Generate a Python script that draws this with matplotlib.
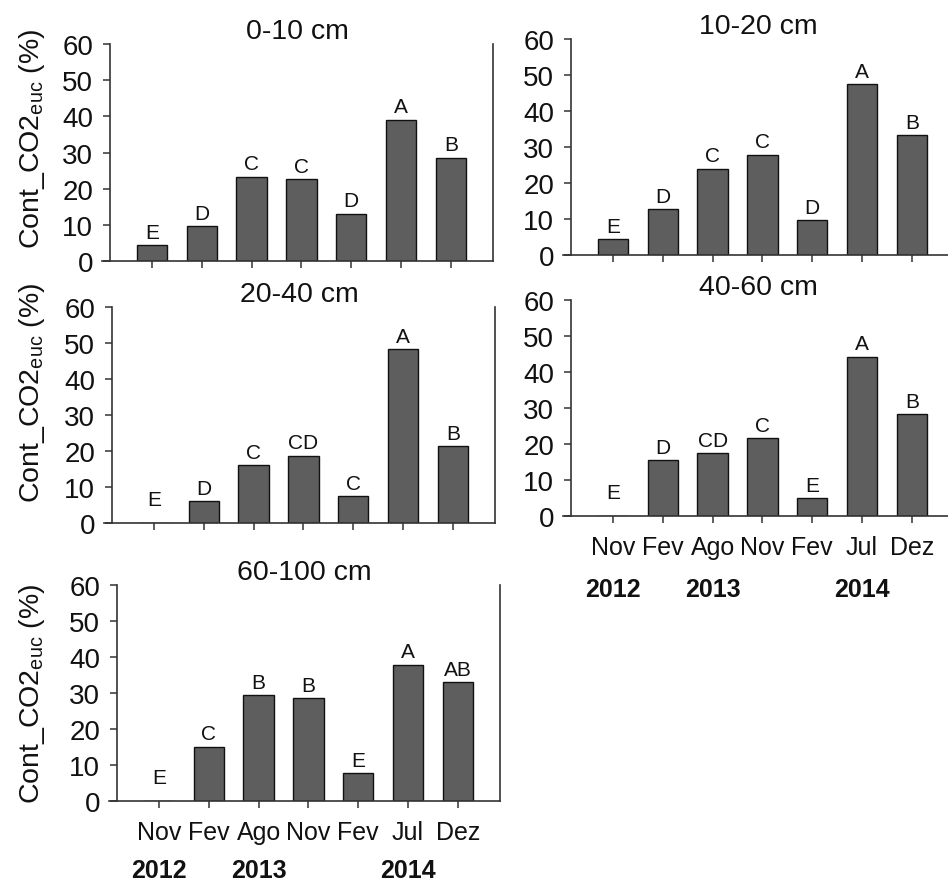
import matplotlib
matplotlib.use("Agg")
import matplotlib.pyplot as plt

plt.rcParams['font.family'] = ['Liberation Sans', 'DejaVu Sans']
plt.rcParams['mathtext.fontset'] = 'custom'
plt.rcParams['mathtext.rm'] = 'Liberation Sans'
plt.rcParams['mathtext.it'] = 'Liberation Sans:italic'

# ---------------- data ----------------
months = ['Nov', 'Fev', 'Ago', 'Nov', 'Fev', 'Jul', 'Dez']
years = ['2012', '2013', '2014']
year_month_index = [0, 2, 5]

titles = ['0-10 cm', '10-20 cm', '20-40 cm', '40-60 cm', '60-100 cm']

vals_0_10 = [4.3, 9.7, 23.3, 22.7, 13.1, 39.1, 28.6]
vals_10_20 = [4.4, 12.8, 24.0, 27.9, 9.7, 47.5, 33.4]
vals_20_40 = [0.0, 6.1, 16.1, 18.7, 7.4, 48.4, 21.4]
vals_40_60 = [0.0, 15.5, 17.5, 21.7, 4.9, 44.3, 28.3]
vals_60_100 = [0.0, 15.1, 29.5, 28.6, 7.8, 37.9, 33.1]

lett_0_10 = ['E', 'D', 'C', 'C', 'D', 'A', 'B']
lett_10_20 = ['E', 'D', 'C', 'C', 'D', 'A', 'B']
lett_20_40 = ['E', 'D', 'C', 'CD', 'C', 'A', 'B']
lett_40_60 = ['E', 'D', 'CD', 'C', 'E', 'A', 'B']
lett_60_100 = ['E', 'C', 'B', 'B', 'E', 'A', 'AB']

yticks = [0, 10, 20, 30, 40, 50, 60]
ylabel_main = 'Cont_CO2'
ylabel_sub = 'euc'
ylabel_tail = ' (%)'

# ---------------- layout ----------------
W, H = 948, 887
fig = plt.figure(figsize=(W / 100, H / 100), dpi=100)

UNIT = 49.8          # pixels per category
XL, XR = -1.0, 6.85  # x limits in category units
SPINE_X = -0.845

# (first bar centre px, y of 60 px, y of 0 px, show months, year offset px)
panels = [
    (152, 45, 262, False, 0),
    (613, 40, 256, False, 0),
    (154, 308, 524, False, 0),
    (613, 301, 517, True, -73),
    (159, 586, 802, True, -69),
]
all_vals = [vals_0_10, vals_10_20, vals_20_40, vals_40_60, vals_60_100]
all_lett = [lett_0_10, lett_10_20, lett_20_40, lett_40_60, lett_60_100]
ylabel_pos = [(32, 139), None, (32, 393), None, (32, 694)]

axc = '#333333'
txt = '#111111'
for k, (x0, ytop, ybot, show_months, yoff) in enumerate(panels):
    left = x0 + XL * UNIT
    right = x0 + XR * UNIT
    ax = fig.add_axes([left / W, 1 - ybot / H, (right - left) / W, (ybot - ytop) / H])
    vals = all_vals[k]
    xs = list(range(len(months)))
    ax.bar(xs, vals, width=0.61, color='#5e5e5e', edgecolor='#111111', linewidth=1.0, zorder=2)
    for i, (v, l) in enumerate(zip(vals, all_lett[k])):
        ax.text(i, max(v, 3) + 2.0, l, ha='center', va='baseline', fontsize=15, color=txt)
    ax.set_xlim(XL, XR)
    ax.set_ylim(0, 60)
    ax.set_yticks(yticks)
    ax.set_xticks(xs)
    ax.spines['top'].set_visible(False)
    ax.spines['left'].set_position(('data', SPINE_X))
    for s in ['left', 'bottom', 'right']:
        ax.spines[s].set_color(axc)
        ax.spines[s].set_linewidth(1.2)
    ax.tick_params(axis='both', direction='out', length=5, width=1.1, color=axc,
                   labelcolor=txt)
    ax.tick_params(axis='y', labelsize=20, pad=7)
    ax.tick_params(axis='x', labelsize=18, pad=9)
    if show_months:
        ax.set_xticklabels(months)
        for yr, idx in zip(years, year_month_index):
            ax.annotate(yr, xy=(idx, 0), xycoords='data', xytext=(0, yoff),
                        textcoords='offset pixels', ha='center', va='center',
                        fontsize=18, fontweight='bold', color=txt,
                        annotation_clip=False)
    else:
        ax.set_xticklabels([])
    ax.annotate(titles[k], xy=(0.5, 1), xycoords='axes fraction', xytext=(0, 13),
                textcoords='offset pixels', ha='center', va='center', fontsize=20.5,
                color=txt)
    if ylabel_pos[k] is not None:
        px, py = ylabel_pos[k]
        lab = ylabel_main + r'$_{\mathregular{' + ylabel_sub + r'}}$' + ylabel_tail
        fig.text(px / W, 1 - py / H, lab, rotation=90, ha='center', va='center',
                 fontsize=20.5, color=txt)

fig.savefig('out.png', dpi=100)
